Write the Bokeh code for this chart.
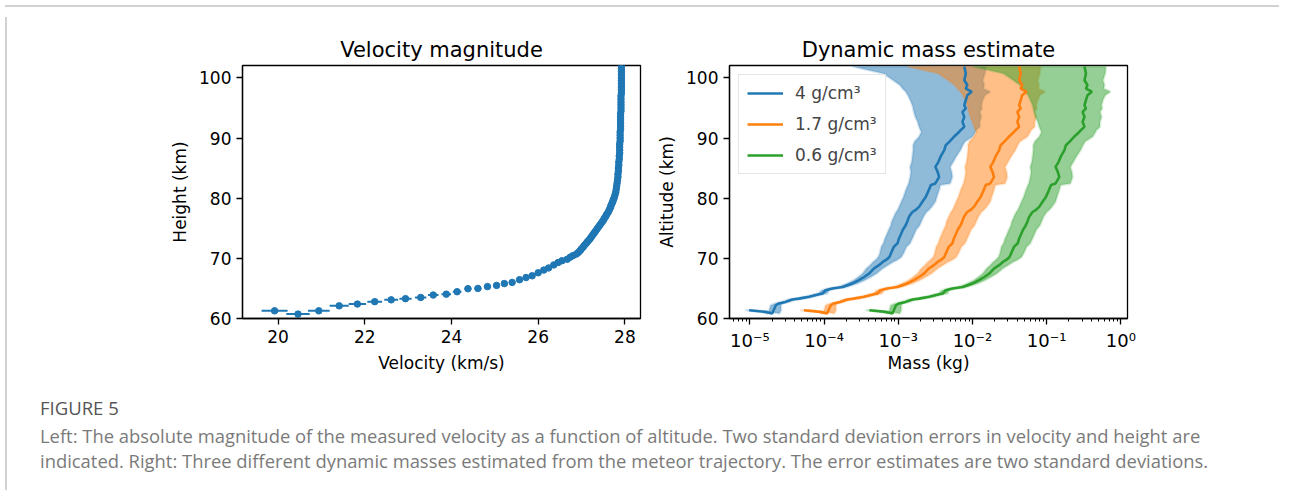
import numpy as np
from bokeh.plotting import figure
from bokeh.layouts import row, column
from bokeh.models import (Range1d, FixedTicker, CustomJSTickFormatter, Legend,
                          LegendItem, Div)
from bokeh.embed import file_html
from bokeh.resources import INLINE

# ---------------- data: velocity profile (time order, high -> low) ----------------
vel_alt = [102.0, 101.5, 101.0, 100.5, 100.0, 99.5, 99.0, 98.5, 98.0, 97.5,
           97.0, 96.5, 96.0, 95.5, 95.0, 94.5, 94.0, 93.5, 93.0, 92.5,
           92.0, 91.5, 91.0, 90.5, 90.0, 89.5, 89.0, 88.5, 88.0, 87.5,
           87.0, 86.5, 86.0, 85.5, 85.0, 84.5, 84.0, 83.5, 83.0, 82.5,
           82.0, 81.5, 81.0, 80.5, 80.0, 79.7, 79.4, 79.1, 78.8, 78.5,
           78.2, 77.9, 77.6, 77.3, 77.0, 76.7, 76.4, 76.1, 75.8, 75.5,
           75.2, 74.9, 74.6, 74.3, 74.0, 73.7, 73.4, 73.1, 72.8, 72.5,
           72.2, 71.9, 71.6, 71.3, 71.0, 70.7, 70.45, 70.2,
           69.85, 69.6, 69.3, 68.9, 68.4, 68.05, 67.6, 67.1, 66.8, 66.45,
           66.0, 65.8, 65.5, 65.3, 65.0, 64.95, 64.45, 64.05, 63.9, 63.5,
           63.3, 63.1, 62.8, 62.4, 62.1, 61.28, 60.73, 61.28]
vel = [27.92, 27.92, 27.92, 27.92, 27.92, 27.92, 27.92, 27.92, 27.92, 27.92,
       27.91, 27.91, 27.91, 27.91, 27.91, 27.91, 27.90, 27.90, 27.90, 27.90,
       27.90, 27.90, 27.89, 27.89, 27.89, 27.89, 27.88, 27.88, 27.88, 27.88,
       27.87, 27.87, 27.86, 27.86, 27.85, 27.85, 27.84, 27.84, 27.83, 27.82,
       27.81, 27.80, 27.79, 27.77, 27.75, 27.73, 27.72, 27.70, 27.68, 27.67,
       27.65, 27.63, 27.61, 27.58, 27.56, 27.53, 27.51, 27.48, 27.45, 27.42,
       27.39, 27.36, 27.33, 27.30, 27.27, 27.24, 27.21, 27.18, 27.14, 27.11,
       27.07, 27.04, 27.00, 26.97, 26.93, 26.88, 26.80, 26.74,
       26.67, 26.55, 26.46, 26.36, 26.24, 26.13, 26.00, 25.86, 25.72, 25.57,
       25.40, 25.22, 25.04, 24.83, 24.61, 24.38, 24.13, 23.88, 23.58, 23.29,
       22.94, 22.61, 22.23, 21.83, 21.41, 20.94, 20.46, 19.92]
vel_err = [0.03] * 78 + [
       0.05, 0.05, 0.05, 0.05, 0.05, 0.05, 0.06, 0.06, 0.06, 0.06,
       0.07, 0.07, 0.07, 0.08, 0.08, 0.08, 0.10, 0.11, 0.12, 0.13,
       0.14, 0.16, 0.17, 0.20, 0.22, 0.25, 0.27, 0.30]
alt_err = [0.15] * len(vel_alt)

# ---------------- data: dynamic mass (log10 kg), time order ----------------
mass_alt = [101.9, 100.7, 99.6, 98.8, 98.2, 97.7, 97.1, 96.3, 95.45, 94.9,
            94.35, 93.5, 92.7, 91.85, 91.3, 91.0, 90.2, 89.4, 88.8, 88.0,
            86.9, 86.0, 85.2, 84.4, 83.5, 82.45, 82.2, 81.3, 80.2, 79.4,
            78.55, 78.0, 77.7, 76.9, 76.06, 75.5, 74.7, 73.85, 73.3, 72.5,
            71.9, 70.8, 70.2, 69.7, 69.4, 68.86, 68.3, 67.5, 66.9, 66.37,
            65.8, 65.25, 64.99, 64.7, 64.15, 63.9, 63.6, 63.3, 63.15, 62.76,
            62.5, 62.2, 61.38, 60.83, 61.1, 61.38]

# 4 g/cm3
logm_4 = [-2.11, -2.09, -2.11, -2.07, -2.09, -2.01, -2.07, -2.09, -2.11, -2.09,
          -2.135, -2.11, -2.135, -2.11, -2.16, -2.18, -2.25, -2.31, -2.36, -2.38,
          -2.43, -2.46, -2.50, -2.47, -2.45, -2.50, -2.56, -2.59, -2.63, -2.675,
          -2.72, -2.77, -2.81, -2.855, -2.88, -2.90, -2.94, -2.97, -2.99, -3.01,
          -3.06, -3.10, -3.12, -3.17, -3.21, -3.26, -3.33, -3.39, -3.46, -3.53,
          -3.62, -3.75, -3.89, -3.98, -4.02, -4.11, -4.20, -4.34, -4.43, -4.52,
          -4.61, -4.65, -4.68, -4.70, -4.79, -5.01]
logm_4_lo = [-3.62, -3.20, -3.07, -2.98, -2.94, -2.90, -2.87, -2.84, -2.81, -2.80,
             -2.79, -2.77, -2.74, -2.72, -2.70, -2.69, -2.72, -2.78, -2.80, -2.80,
             -2.81, -2.82, -2.84, -2.83, -2.84, -2.86, -2.87, -2.90, -2.93, -2.96,
             -2.99, -3.01, -3.03, -3.06, -3.09, -3.10, -3.13, -3.16, -3.18, -3.20,
             -3.23, -3.25, -3.27, -3.31, -3.34, -3.38, -3.43, -3.48, -3.54, -3.60,
             -3.69, -3.81, -3.94, -4.03, -4.08, -4.16, -4.26, -4.39, -4.48, -4.57,
             -4.66, -4.72, -4.74, -4.76, -4.85, -5.06]
logm_4_hi = [-1.82, -1.83, -1.86, -1.84, -1.85, -1.76, -1.83, -1.86, -1.88, -1.87,
             -1.90, -1.88, -1.90, -1.90, -1.95, -1.96, -2.00, -2.10, -2.13, -2.16,
             -2.22, -2.26, -2.30, -2.28, -2.27, -2.30, -2.43, -2.45, -2.48, -2.50,
             -2.55, -2.59, -2.62, -2.66, -2.69, -2.71, -2.76, -2.79, -2.81, -2.84,
             -2.89, -2.93, -2.96, -3.02, -3.07, -3.14, -3.21, -3.29, -3.37, -3.45,
             -3.55, -3.69, -3.84, -3.93, -3.96, -4.06, -4.14, -4.29, -4.38, -4.47,
             -4.56, -4.58, -4.58, -4.60, -4.72, -4.96]

# 1.7 g/cm3
logm_17 = [-1.37, -1.35, -1.37, -1.33, -1.35, -1.27, -1.33, -1.35, -1.37, -1.35,
           -1.395, -1.37, -1.395, -1.37, -1.42, -1.44, -1.51, -1.57, -1.62, -1.64,
           -1.69, -1.72, -1.76, -1.73, -1.71, -1.76, -1.82, -1.85, -1.89, -1.935,
           -1.98, -2.03, -2.07, -2.115, -2.14, -2.16, -2.20, -2.23, -2.25, -2.27,
           -2.32, -2.36, -2.38, -2.43, -2.47, -2.52, -2.59, -2.65, -2.72, -2.79,
           -2.88, -3.01, -3.15, -3.24, -3.28, -3.37, -3.46, -3.60, -3.69, -3.78,
           -3.87, -3.91, -3.94, -3.96, -4.05, -4.27]
logm_17_lo = [-2.88, -2.46, -2.33, -2.24, -2.20, -2.16, -2.13, -2.10, -2.07, -2.06,
              -2.05, -2.03, -2.00, -1.98, -1.96, -1.95, -1.98, -2.04, -2.06, -2.06,
              -2.07, -2.08, -2.10, -2.09, -2.10, -2.12, -2.13, -2.16, -2.19, -2.22,
              -2.25, -2.27, -2.29, -2.32, -2.35, -2.36, -2.39, -2.42, -2.44, -2.46,
              -2.49, -2.51, -2.53, -2.57, -2.60, -2.64, -2.69, -2.74, -2.80, -2.86,
              -2.95, -3.07, -3.20, -3.29, -3.34, -3.42, -3.52, -3.65, -3.74, -3.83,
              -3.92, -3.98, -4.00, -4.02, -4.11, -4.32]
logm_17_hi = [-1.08, -1.09, -1.12, -1.10, -1.11, -1.02, -1.09, -1.12, -1.14, -1.13,
              -1.16, -1.14, -1.16, -1.16, -1.21, -1.22, -1.26, -1.36, -1.39, -1.42,
              -1.48, -1.52, -1.56, -1.54, -1.53, -1.56, -1.69, -1.71, -1.74, -1.76,
              -1.81, -1.85, -1.88, -1.92, -1.95, -1.97, -2.02, -2.05, -2.07, -2.10,
              -2.15, -2.19, -2.22, -2.28, -2.33, -2.40, -2.47, -2.55, -2.63, -2.71,
              -2.81, -2.95, -3.10, -3.19, -3.22, -3.32, -3.40, -3.55, -3.64, -3.73,
              -3.82, -3.84, -3.84, -3.86, -3.98, -4.22]

# 0.6 g/cm3
logm_06 = [-0.49, -0.47, -0.49, -0.45, -0.47, -0.39, -0.45, -0.47, -0.49, -0.47,
           -0.515, -0.49, -0.515, -0.49, -0.54, -0.56, -0.63, -0.69, -0.74, -0.76,
           -0.81, -0.84, -0.88, -0.85, -0.83, -0.88, -0.94, -0.97, -1.01, -1.055,
           -1.10, -1.15, -1.19, -1.235, -1.26, -1.28, -1.32, -1.35, -1.37, -1.39,
           -1.44, -1.48, -1.50, -1.55, -1.59, -1.64, -1.71, -1.77, -1.84, -1.91,
           -2.00, -2.13, -2.27, -2.36, -2.40, -2.49, -2.58, -2.72, -2.81, -2.90,
           -2.99, -3.03, -3.06, -3.08, -3.17, -3.39]
logm_06_lo = [-2.00, -1.58, -1.45, -1.36, -1.32, -1.28, -1.25, -1.22, -1.19, -1.18,
              -1.17, -1.15, -1.12, -1.10, -1.08, -1.07, -1.10, -1.16, -1.18, -1.18,
              -1.19, -1.20, -1.22, -1.21, -1.22, -1.24, -1.25, -1.28, -1.31, -1.34,
              -1.37, -1.39, -1.41, -1.44, -1.47, -1.48, -1.51, -1.54, -1.56, -1.58,
              -1.61, -1.63, -1.65, -1.69, -1.72, -1.76, -1.81, -1.86, -1.92, -1.98,
              -2.07, -2.19, -2.32, -2.41, -2.46, -2.54, -2.64, -2.77, -2.86, -2.95,
              -3.04, -3.10, -3.12, -3.14, -3.23, -3.44]
logm_06_hi = [-0.20, -0.21, -0.24, -0.22, -0.23, -0.14, -0.21, -0.24, -0.26, -0.25,
              -0.28, -0.26, -0.28, -0.28, -0.33, -0.34, -0.38, -0.48, -0.51, -0.54,
              -0.60, -0.64, -0.68, -0.66, -0.65, -0.68, -0.81, -0.83, -0.86, -0.88,
              -0.93, -0.97, -1.00, -1.04, -1.07, -1.09, -1.14, -1.17, -1.19, -1.22,
              -1.27, -1.31, -1.34, -1.40, -1.45, -1.52, -1.59, -1.67, -1.75, -1.83,
              -1.93, -2.07, -2.22, -2.31, -2.34, -2.44, -2.52, -2.67, -2.76, -2.85,
              -2.94, -2.96, -2.96, -2.98, -3.10, -3.34]

series_labels = ["4 g/cm³", "1.7 g/cm³", "0.6 g/cm³"]
series_colors = ["#1f77b4", "#ff7f0e", "#2ca02c"]

vel_ticks = [20, 22, 24, 26, 28]
alt_ticks = [60, 70, 80, 90, 100]
mass_ticks = [1e-5, 1e-4, 1e-3, 1e-2, 1e-1, 1e0]

title_left = "Velocity magnitude"
title_right = "Dynamic mass estimate"

FONT = "DejaVu Sans"


def style(p):
    p.title.text_font = FONT
    p.title.text_font_size = "21px"
    p.title.text_font_style = "normal"
    p.title.align = "center"
    p.title.text_color = "black"
    p.title.standoff = 8
    for ax in (p.xaxis[0], p.yaxis[0]):
        ax.axis_label_text_font = FONT
        ax.axis_label_text_font_size = "17px"
        ax.axis_label_text_font_style = "normal"
        ax.axis_label_text_color = "black"
        ax.major_label_text_font = FONT
        ax.major_label_text_font_size = "17px"
        ax.major_label_text_color = "black"
        ax.major_tick_out = 6
        ax.major_tick_in = 0
        ax.minor_tick_out = 3
        ax.minor_tick_in = 0
        ax.axis_line_width = 1.3
        ax.major_tick_line_width = 1.3
        ax.minor_tick_line_width = 1.0
        ax.major_label_standoff = 5
        ax.axis_label_standoff = 7
    p.xgrid.visible = False
    p.ygrid.visible = False
    p.outline_line_color = "black"
    p.outline_line_width = 1.3
    p.background_fill_color = "white"
    p.border_fill_color = "white"


# ---------------- left panel ----------------
p1 = figure(width=638, height=368, output_backend="svg", toolbar_location=None,
            x_range=Range1d(19.18, 28.36), y_range=Range1d(60, 102.05),
            min_border_left=230, min_border_right=10, min_border_top=53,
            min_border_bottom=62, title=title_left)
style(p1)
p1.xaxis.ticker = FixedTicker(ticks=vel_ticks)
p1.yaxis.ticker = FixedTicker(ticks=alt_ticks)
p1.xaxis.minor_tick_line_color = None
p1.yaxis.minor_tick_line_color = None
p1.xaxis.axis_label = "Velocity (km/s)"
p1.yaxis.axis_label = "Height (km)"
p1.yaxis.axis_label_standoff = 6

v = np.array(vel)
h = np.array(vel_alt)
ve = np.array(vel_err)
he = np.array(alt_err)
c0 = "#1f77b4"
p1.segment(x0=v - ve, x1=v + ve, y0=h, y1=h, line_color=c0, line_width=2)
p1.segment(x0=v, x1=v, y0=h - he, y1=h + he, line_color=c0, line_width=2)
p1.scatter(v, h, size=6.5, fill_color=c0, line_color=c0)

# ---------------- right panel ----------------
p2 = figure(width=634, height=368, output_backend="svg", toolbar_location=None,
            x_axis_type="log",
            x_range=Range1d(10 ** -5.275, 10 ** 0.09), y_range=Range1d(60, 102.05),
            min_border_left=79, min_border_right=157, min_border_top=53,
            min_border_bottom=62, title=title_right)
style(p2)
minor = [m * 10.0 ** k for k in range(-6, 1) for m in range(2, 10)
         if 10 ** -5.275 < m * 10.0 ** k < 10 ** 0.09]
p2.xaxis.ticker = FixedTicker(ticks=mass_ticks, minor_ticks=minor)
p2.yaxis.ticker = FixedTicker(ticks=alt_ticks)
p2.yaxis.minor_tick_line_color = None
p2.xaxis.formatter = CustomJSTickFormatter(code="""
const sup = {"-": "\u207b", "0": "\u2070", "1": "\u00b9", "2": "\u00b2", "3": "\u00b3",
             "4": "\u2074", "5": "\u2075", "6": "\u2076", "7": "\u2077", "8": "\u2078", "9": "\u2079"};
const e = Math.round(Math.log10(tick));
return "10" + String(e).split("").map(c => sup[c]).join("");
""")
p2.xaxis.major_label_text_font_size = "18px"
p2.xaxis.axis_label = "Mass (kg)"
p2.xaxis.axis_label_standoff = -1
p2.yaxis.axis_label = "Altitude (km)"
p2.yaxis.axis_label_standoff = 6

bands = [(logm_4_lo, logm_4_hi), (logm_17_lo, logm_17_hi), (logm_06_lo, logm_06_hi)]
lines = [logm_4, logm_17, logm_06]
ma = list(mass_alt)
for (lo, hi), col in zip(bands, series_colors):
    xs = list(10 ** np.array(lo)) + list(10 ** np.array(hi))[::-1]
    ys = ma + ma[::-1]
    p2.patch(xs, ys, fill_color=col, fill_alpha=0.5, line_color=col,
             line_alpha=0.18, line_width=2.5)

items = []
for lg, col, lab in zip(lines, series_colors, series_labels):
    r = p2.line(10 ** np.array(lg), ma, line_color=col, line_width=2.6)
    items.append(LegendItem(label=lab, renderers=[r]))

legend = Legend(items=items, location="top_left")
legend.label_text_font = FONT
legend.label_text_font_size = "17px"
legend.glyph_width = 36
legend.glyph_height = 20
legend.label_height = 20
legend.label_standoff = 12
legend.spacing = 11
legend.padding = 8
legend.margin = 9
legend.border_line_color = "#cccccc"
legend.border_line_width = 1
legend.background_fill_alpha = 0.8
p2.add_layout(legend)

# ---------------- page frame and caption ----------------
caption_head = "FIGURE 5"
caption_l1 = ("Left: The absolute magnitude of the measured velocity as a function of altitude. "
              "Two standard deviation errors in velocity and height are")
caption_l2 = ("indicated. Right: Three different dynamic masses estimated from the meteor "
              "trajectory. The error estimates are two standard deviations.")
cap = Div(text=(
    "<div style=\"font-family:'Open Sans';font-size:18.5px;color:#555555;line-height:24px;"
    "padding-left:23px;padding-top:11px;white-space:nowrap\">"
    + caption_head + "</div>"
    "<div style=\"font-family:'Open Sans';font-size:18.4px;color:#7a7a7a;line-height:25px;"
    "padding-left:23px;padding-top:3px;white-space:nowrap\">"
    + caption_l1 + "<br>" + caption_l2 + "</div>"),
    width=1272, height=105)

top_line = Div(text="", width=1274, height=2, styles={"background-color": "#d2d2d2"})
left_line = Div(text="", width=2, height=473, styles={"background-color": "#d2d2d2"})

layout = column(top_line, row(left_line, column(row(p1, p2), cap)))

with open("out.html", "w", encoding="utf-8") as f:
    f.write(file_html(layout, INLINE))
